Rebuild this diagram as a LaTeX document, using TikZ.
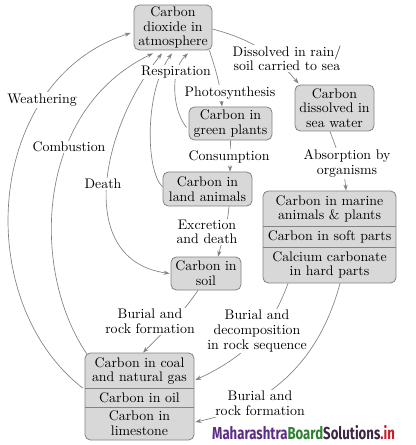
\documentclass[tikz,border=0pt]{standalone}
\usepackage{fontspec}
\usepackage{graphicx}
\usepackage{xcolor}
\usetikzlibrary{arrows.meta, calc, positioning}
\newfontfamily\wmfont{Fira Sans}
\definecolor{boxgray}{RGB}{216,216,216}
\definecolor{edgegray}{RGB}{130,130,130}
\definecolor{wmpurple}{RGB}{92,44,135}
\definecolor{wmgreen}{RGB}{46,130,50}
\definecolor{wmdark}{RGB}{60,40,70}
\definecolor{wmred}{RGB}{200,30,40}

\begin{document}
\begin{tikzpicture}[x=0.75pt, y=0.75pt, >={Stealth[length=4.5pt,width=3.2pt]},
    every node/.style={font=\fontsize{10.4}{11}\selectfont, align=center},
    pool/.style={draw=edgegray, fill=boxgray, rounded corners=4pt, inner sep=1pt, line width=0.6pt},
    part/.style={inner sep=0pt, minimum width=90pt},
    flow/.style={draw=edgegray, line width=0.5pt, ->},
    lbl/.style={fill=white, inner sep=1pt}]
    \useasboundingbox (0,0) rectangle (416,-445);

    % Carbon pools
    \node[pool, minimum width=58.5pt, minimum height=33.75pt] (co2) at (173,-27.5) {Carbon\\dioxide in\\atmosphere};
    \node[pool, minimum width=62.25pt, minimum height=24.75pt] (plants) at (230.5,-123.5) {Carbon in\\green plants};
    \node[pool, minimum width=59.25pt, minimum height=34.5pt] (sea) at (334.5,-108) {Carbon\\dissolved in\\sea water};
    \node[pool, minimum width=66.75pt, minimum height=25.5pt] (animals) at (207.5,-189) {Carbon in\\land animals};
    \node[pool, minimum width=52.5pt, minimum height=24.75pt] (soil) at (206,-273.5) {Carbon in\\soil};

    % Marine pool, three parts
    \node[pool, minimum width=99.75pt, minimum height=69pt] (marine) at (329.5,-237) {};
    \node[part] (marineA) at (329.5,-209) {Carbon in marine\\animals \& plants};
    \node[part, minimum height=15pt] (marineB) at (329.5,-237) {Carbon in soft parts};
    \node[part] (marineC) at (329.5,-265) {Calcium carbonate\\in hard parts};
    \draw[edgegray, line width=0.6pt] (marine.west |- marineB.north) -- (marine.east |- marineB.north);
    \draw[edgegray, line width=0.6pt] (marine.west |- marineB.south) -- (marine.east |- marineB.south);

    % Fossil pool, three parts
    \node[pool, minimum width=81.75pt, minimum height=65.25pt] (coal) at (139.5,-396.5) {};
    \node[part] (coalA) at (139.5,-371) {Carbon in coal\\and natural gas};
    \node[part, minimum height=13.5pt] (coalB) at (139.5,-398) {Carbon in oil};
    \node[part] (coalC) at (139.5,-423.5) {Carbon in\\limestone};
    \draw[edgegray, line width=0.6pt] (coal.west |- coalB.north) -- (coal.east |- coalB.north);
    \draw[edgegray, line width=0.6pt] (coal.west |- coalB.south) -- (coal.east |- coalB.south);

    % Long return paths to the atmosphere
    \draw[flow] ($(coal.west)+(-2,8.5)$) .. controls (-30,-300) and (-15,-80) .. ($(co2.west)+(-3,-5.5)$);
    \draw[flow] ($(coal.north west)+(2,-1)$) .. controls (30,-270) and (35,-110) .. ($(co2.south)+(-20,-3)$);
    \draw[flow, <->] ($(co2.south)+(-11,-3)$) .. controls (100,-130) and (75,-260) .. ($(soil.west)+(-1,0)$);
    \draw[flow] ($(animals.west)+(0,2)$) .. controls (145,-170) and (145,-90) .. ($(co2.south)+(-1,-3)$);
    \draw[flow] ($(plants.west)+(-2,-4)$) .. controls (172,-110) and (170,-70) .. ($(co2.south)+(15,-3)$);
    \node[lbl] (weath) at (42,-100) {Weathering};
    \node[lbl] (comb) at (69,-147) {Combustion};
    \node[lbl] (death) at (103,-184) {Death};
    \node[lbl] (resp) at (176,-72) {Respiration};

    % Land side
    \draw[flow] ($(co2.south east)+(-3,0)$) to[out=-72, in=95] ($(plants.north)+(-8.5,0)$);
    \node[lbl] (photo) at (230,-93) {Photosynthesis};
    \draw[flow] (plants.south) -- ($(animals.north)+(22.5,0)$);
    \node[lbl] (cons) at (229,-157) {Consumption};
    \draw[flow] ($(animals.south)+(21.5,0)$) to[out=-95, in=75] ($(soil.north)+(12,0)$);
    \node[lbl] (excr) at (207,-232) {Excretion\\and death};

    % Sea side
    \draw[flow] ($(co2.east)+(0,-1.5)$) to[out=-15, in=130] ($(sea.north west)+(4,1)$);
    \node[lbl] (rain) at (287,-58.5) {Dissolved in rain/\\soil carried to sea};
    \draw[flow] ($(sea.south)+(-4.5,0)$) to[out=-70, in=95] ($(marine.north)+(16.5,0)$);
    \node[lbl] (absorb) at (347,-163.5) {Absorption by\\organisms};

    % Burial into rock
    \draw[flow] ($(soil.south)+(-8,0)$) to[out=-125, in=45] ($(coal.north)+(3.5,0)$);
    \node[lbl] (burialA) at (150,-321.5) {Burial and\\rock formation};
    \draw[flow] ($(marine.south)+(-41.5,0)$) to[out=-110, in=25] ($(coal.east)+(1,16.5)$);
    \node[lbl] (decomp) at (257,-331) {Burial and\\decomposition\\in rock sequence};
    \draw[flow] ($(marine.south)+(10.5,0)$) to[out=-105, in=12] ($(coal.east)+(1,-25.5)$);
    \node[lbl] (burialB) at (260,-403.5) {Burial and\\rock formation};

    % Site mark
    \node[inner sep=0pt] (mark) at (303.5,-433) {\wmfont\bfseries\fontsize{13}{13}\selectfont\scalebox{0.76}[1]{\textcolor{wmpurple}{Maharashtra}\textcolor{wmgreen}{Board}\textcolor{wmdark}{Solutions}\textcolor{wmred}{.in}}};
\end{tikzpicture}
\end{document}
